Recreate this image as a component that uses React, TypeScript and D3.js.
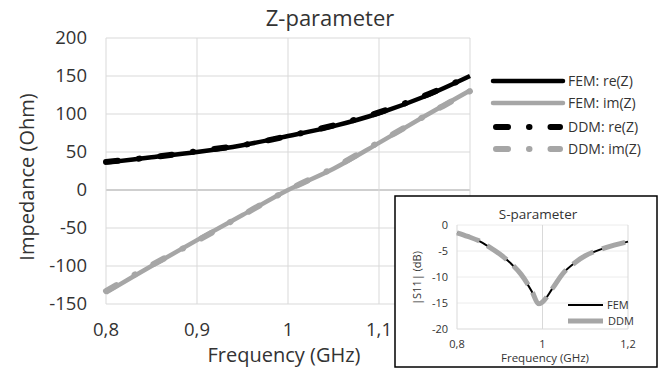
import React from "react";
import * as d3 from "d3";

// ---- Main chart data (Z-parameter) ----
const freqZ = [0.8, 0.85, 0.9, 0.95, 1.0, 1.05, 1.1, 1.15, 1.2];
const femReZ = [36, 43, 50, 59, 71, 84, 101, 123, 150];
const femImZ = [-135, -100, -66, -33, 0, 28, 62, 97, 131];
const ddmReZ = [37, 43, 51, 59, 71, 85, 102, 124, 150];
const ddmImZ = [-133, -99, -67, -33, 0, 29, 63, 97, 130];

const xTicksZ = [0.8, 0.9, 1.0, 1.1, 1.2];
const xTickLabelsZ = [0.8, 0.9, 1.0, 1.1]; // 1,2 is hidden behind the inset
const yTicksZ = [-150, -100, -50, 0, 50, 100, 150, 200];

// ---- Inset data (S-parameter) ----
const freqS = [0.8, 0.825, 0.85, 0.875, 0.9, 0.925, 0.95, 0.975, 0.99, 1.0, 1.025, 1.05, 1.075, 1.1, 1.15, 1.2];
const femS11 = [-1.5, -2.2, -3.0, -4.2, -5.6, -7.3, -9.6, -12.8, -15.3, -14.9, -12.0, -9.1, -7.3, -5.9, -4.3, -3.2];
const ddmS11 = [-1.5, -2.2, -3.0, -4.2, -5.6, -7.3, -9.5, -12.7, -15.1, -14.8, -12.0, -9.1, -7.3, -5.9, -4.3, -3.2];
const xTicksS = [0.8, 1.0, 1.2];
const yTicksS = [-20, -15, -10, -5, 0];

const legendZ = [
  { label: "FEM: re(Z)", color: "#000", dash: "none", width: 4.5 },
  { label: "FEM: im(Z)", color: "#a6a6a6", dash: "none", width: 4.5 },
  { label: "DDM: re(Z)", color: "#000", dash: "12,21,0.5,21", width: 6 },
  { label: "DDM: im(Z)", color: "#a6a6a6", dash: "12,21,0.5,21", width: 6 },
];

const fmt = (v: number) => String(v).replace(".", ",");
const FONT = "'Open Sans', sans-serif";
const TXT = "#333";

export default function App() {
  const x = d3.scaleLinear().domain([0.8, 1.2]).range([106, 470]);
  const y = d3.scaleLinear().domain([-150, 200]).range([304, 38]);

  const lineZ = (vals: number[]) =>
    d3
      .line<number>()
      .x((_, i) => x(freqZ[i]))
      .y((d) => y(d))
      .curve(d3.curveCatmullRom)(vals) || "";

  const xs = d3.scaleLinear().domain([0.8, 1.2]).range([457, 628]);
  const ys = d3.scaleLinear().domain([-20, 0]).range([329, 225]);
  const lineS = (vals: number[]) =>
    d3
      .line<number>()
      .x((_, i) => xs(freqS[i]))
      .y((d) => ys(d))
      .curve(d3.curveCatmullRom)(vals) || "";

  const series = [
    { vals: femReZ, ...legendZ[0] },
    { vals: femImZ, ...legendZ[1] },
    { vals: ddmReZ, ...legendZ[2] },
    { vals: ddmImZ, ...legendZ[3] },
  ];

  const legY = [81, 103, 127, 149];

  return (
    <svg width={659} height={368} style={{ position: "absolute", left: 0, top: 0, background: "#fff" }} fontFamily={FONT}>
      <rect x={0} y={0} width={659} height={368} fill="#fff" />
      {/* title */}
      <text x={330} y={26} textAnchor="middle" fontSize={22} fill={TXT}>Z-parameter</text>

      {/* grid */}
      {yTicksZ.map((t) => (
        <line key={"gy" + t} x1={x(0.8)} x2={x(1.2)} y1={y(t)} y2={y(t)}
          stroke={t === 0 ? "#bfbfbf" : "#d9d9d9"} strokeWidth={t === 0 ? 1.5 : 1} />
      ))}
      {xTicksZ.map((t) => (
        <line key={"gx" + t} x1={x(t)} x2={x(t)} y1={y(200)} y2={y(-150)} stroke="#d9d9d9" strokeWidth={1} />
      ))}

      {/* tick labels */}
      {yTicksZ.map((t) => (
        <text key={"ty" + t} x={87} y={y(t) + 6} textAnchor="end" fontSize={18.5} fill={TXT}>{t}</text>
      ))}
      {xTickLabelsZ.map((t) => (
        <text key={"tx" + t} x={x(t)} y={336} textAnchor="middle" fontSize={18.5} fill={TXT}>{fmt(t)}</text>
      ))}

      {/* axis titles */}
      <text x={284} y={362} textAnchor="middle" fontSize={20} fill={TXT}>Frequency (GHz)</text>
      <text transform="translate(34,177) rotate(-90)" textAnchor="middle" fontSize={20} fill={TXT}>Impedance (Ohm)</text>

      {/* series */}
      {series.map((s, i) => (
        <path key={"s" + i} d={lineZ(s.vals)} fill="none" stroke={s.color} strokeWidth={s.width}
          strokeDasharray={s.dash} strokeLinecap={s.dash === "none" ? "butt" : "round"} />
      ))}

      {/* legend */}
      {legendZ.map((l, i) => (
        <g key={"l" + i}>
          <line x1={l.dash === "none" ? 493 : 496} x2={l.dash === "none" ? 563 : 560} y1={legY[i]} y2={legY[i]}
            stroke={l.color} strokeWidth={l.width} strokeDasharray={l.dash} strokeLinecap="round" />
          <text x={568} y={legY[i] + 5} fontSize={14} fill={TXT}>{l.label}</text>
        </g>
      ))}

      {/* inset */}
      <rect x={395} y={196} width={262} height={171} fill="#fff" stroke="#000" strokeWidth={1.5} />
      <text x={538} y={219} textAnchor="middle" fontSize={13.5} fill={TXT}>S-parameter</text>
      {yTicksS.map((t) => (
        <line key={"sgy" + t} x1={xs(0.8)} x2={xs(1.2)} y1={ys(t)} y2={ys(t)} stroke={t === -20 ? "#d9d9d9" : "#ececec"} strokeWidth={1} />
      ))}
      {xTicksS.map((t) => (
        <line key={"sgx" + t} x1={xs(t)} x2={xs(t)} y1={ys(0)} y2={ys(-20)} stroke="#d9d9d9" strokeWidth={1} />
      ))}
      {yTicksS.map((t) => (
        <text key={"sty" + t} x={448} y={ys(t) + 4} textAnchor="end" fontSize={11} fill={TXT}>{t}</text>
      ))}
      {xTicksS.map((t) => (
        <text key={"stx" + t} x={xs(t)} y={348} textAnchor="middle" fontSize={11} fill={TXT}>{fmt(t)}</text>
      ))}
      <text x={545} y={362} textAnchor="middle" fontSize={11.5} fill={TXT}>Frequency (GHz)</text>
      <text transform="translate(421,278) rotate(-90)" textAnchor="middle" fontSize={11} fill={TXT}>|S11| (dB)</text>

      <path d={lineS(femS11)} fill="none" stroke="#000" strokeWidth={2} />
      <path d={lineS(ddmS11)} fill="none" stroke="#a6a6a6" strokeWidth={5} strokeDasharray="24,9" />

      <line x1={568} x2={603} y1={305} y2={305} stroke="#000" strokeWidth={2} />
      <text x={607} y={309} fontSize={11} fill={TXT}>FEM</text>
      <line x1={568} x2={603} y1={321} y2={321} stroke="#a6a6a6" strokeWidth={5} />
      <text x={608} y={325} fontSize={11} fill={TXT}>DDM</text>
    </svg>
  );
}
